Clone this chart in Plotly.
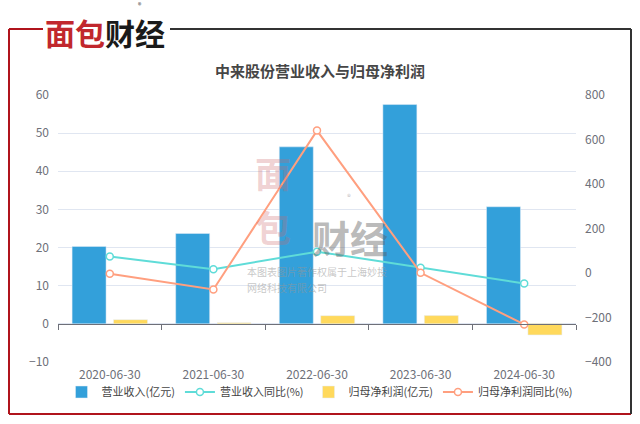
import plotly.graph_objects as go

categories = ["2020-06-30", "2021-06-30", "2022-06-30", "2023-06-30", "2024-06-30"]
revenue = [20.3, 23.7, 46.4, 57.5, 30.7]
revenue_yoy = [74, 17, 96, 24, -47]
net_profit = [1.1, 0.29, 2.15, 2.17, -2.9]
net_profit_yoy = [-3, -74, 640, 1, -231]

W, H = 640, 424
ML, MR, MT, MB = 58, 64, 95, 62
PW, PH = W - ML - MR, H - MT - MB

def px(x):
    return (x - ML) / PW

def py(y):
    return (H - MB - y) / PH

FONT = "Noto Sans CJK SC"
AX = "#6e7079"

fig = go.Figure()
fig.add_trace(go.Bar(x=categories, y=revenue, name="营业收入(亿元)", marker_color="#33a0da",
                     yaxis="y"))
fig.add_trace(go.Scatter(x=categories, y=revenue_yoy, name="营业收入同比(%)", yaxis="y2",
                         mode="lines+markers", line=dict(color="#5fdcd8", width=2),
                         marker=dict(symbol="circle", size=7, color="white",
                                     line=dict(color="#5fdcd8", width=1.5))))
fig.add_trace(go.Bar(x=categories, y=net_profit, name="归母净利润(亿元)", marker_color="#ffd95c",
                     yaxis="y"))
fig.add_trace(go.Scatter(x=categories, y=net_profit_yoy, name="归母净利润同比(%)", yaxis="y2",
                         mode="lines+markers", line=dict(color="#ff9f7f", width=2),
                         marker=dict(symbol="circle", size=7, color="white",
                                     line=dict(color="#ff9f7f", width=1.5))))

shapes = []
red = "#b0141c"
blk = "#333333"
def seg(x0, y0, x1, y1, c, w=2):
    shapes.append(dict(type="line", xref="paper", yref="paper", x0=px(x0), y0=py(y0),
                       x1=px(x1), y1=py(y1), line=dict(color=c, width=w), layer="below"))
seg(9, 29, 9, 414, red)
seg(9, 29, 43, 29, red)
seg(9, 414, 631, 414, red)
seg(170, 29, 631, 29, blk)
seg(631, 29, 631, 414, blk)

def ann(text, x, y, size, color, xanchor="center", bold=False):
    return dict(text=f"<b>{text}</b>" if bold else text, x=px(x), y=py(y), xref="paper",
                yref="paper", xanchor=xanchor, yanchor="middle", showarrow=False,
                font=dict(family=FONT, size=size, color=color))

annotations = [
    ann("中来股份营业收入与归母净利润", 320, 70, 15, "#464646", bold=True),
    ann("<span style='color:#c1272d'>面包</span><span style='color:#1a1a1a'>财经</span>",
        105, 32, 30, "#1a1a1a", bold=True),
    ann("®", 140, 5, 7, "#333"),
    # watermark
    ann("面", 273, 172, 36, "rgba(205,100,105,0.30)", bold=True),
    ann("包", 273, 226, 36, "rgba(205,100,105,0.30)", bold=True),
    ann("财经", 350, 236, 38, "rgba(90,90,90,0.42)", bold=True),
    ann("®", 349, 196, 8, "rgba(90,90,90,0.42)"),
    ann("本图表图片著作权属于上海妙投", 245, 271, 10, "rgba(150,150,150,0.55)", xanchor="left"),
    ann("网络科技有限公司", 245, 287, 10, "rgba(150,150,150,0.55)", xanchor="left"),
]

fig.update_layout(
    width=W, height=H,
    margin=dict(l=ML, r=MR, t=MT, b=MB, pad=0),
    paper_bgcolor="white", plot_bgcolor="white",
    font=dict(family=FONT, size=12, color=AX),
    barmode="group", bargap=0.2, bargroupgap=0.18,
    showlegend=True,
    legend=dict(orientation="h", xref="container", yref="container", x=0.5, xanchor="center",
                y=1 - 392 / H, yanchor="middle",
                font=dict(family=FONT, size=11, color="#444"), bgcolor="rgba(0,0,0,0)",
                itemwidth=30, tracegroupgap=0),
    xaxis=dict(type="category", anchor="free", position=10 / 70, showline=True, linecolor=AX,
               linewidth=1, ticks="outside", ticklen=5, tickcolor=AX, tickson="boundaries",
               ticklabelstandoff=40, showgrid=False, zeroline=False, automargin=False,
               tickfont=dict(family=FONT, size=12, color=AX)),
    yaxis=dict(range=[-10, 60], dtick=10, showgrid=True, gridcolor="#e0e6f1", zeroline=False,
               showline=False, ticks="", automargin=False, ticklabelstandoff=8,
               tickfont=dict(family=FONT, size=12, color=AX)),
    yaxis2=dict(range=[-400, 800], dtick=200, overlaying="y", side="right", showgrid=False,
                zeroline=False, showline=False, ticks="", automargin=False, ticklabelstandoff=8,
                tickfont=dict(family=FONT, size=12, color=AX)),
    shapes=shapes,
    annotations=annotations,
)

fig.write_html("out.html", config={"displayModeBar": False},
               post_script="document.body.style.margin='0px';document.body.style.overflow='hidden';")
